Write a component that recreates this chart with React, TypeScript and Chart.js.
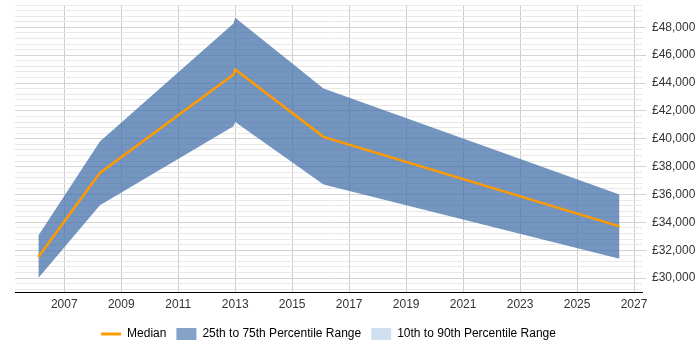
import React, { useEffect, useRef } from 'react';
import { Chart, registerables } from 'chart.js';

Chart.register(...registerables);

// Decimal years of each sample
const years = [2006.09, 2008.25, 2012.94, 2013.0, 2016.1, 2026.49];
// Salary percentiles (GBP)
const p25 = [30000, 35220, 40900, 41200, 36710, 31390];
const median = [31520, 37550, 44610, 44970, 40135, 33710];
const p75 = [33050, 39800, 48270, 48680, 43600, 35990];

const xTickYears = [2007, 2009, 2011, 2013, 2015, 2017, 2019, 2021, 2023, 2025, 2027];
const legendNames = ['Median', '25th to 75th Percentile Range', '10th to 90th Percentile Range'];

const ORANGE = '#ff9a00';
const BAND = 'rgba(68,114,170,0.75)';
const BAND_KEY = 'rgba(68,114,170,0.65)';
const OUTER_KEY = '#cfdfef';

const toPoints = (vals: number[]) => vals.map((v, i) => ({ x: years[i], y: v }));

// Keep the legend centred under the plot area rather than the whole canvas
const legendToPlot = {
  id: 'legendToPlot',
  afterLayout(chart: any) {
    const lg = chart.legend;
    if (!lg) return;
    lg.left = chart.chartArea.left;
    lg.right = chart.chartArea.right;
    lg.width = lg.right - lg.left;
  },
};

export default function App() {
  const ref = useRef<HTMLCanvasElement | null>(null);

  useEffect(() => {
    if (!ref.current) return;
    Chart.defaults.font.family = '"Liberation Sans", Arial, sans-serif';
    Chart.defaults.font.size = 12;
    Chart.defaults.color = '#333';

    const chart = new Chart(ref.current, {
      type: 'line',
      data: {
        datasets: [
          {
            label: legendNames[0],
            data: toPoints(median),
            borderColor: ORANGE,
            borderWidth: 2.5,
            pointRadius: 0,
            fill: false,
            tension: 0,
          },
          {
            label: legendNames[1],
            data: toPoints(p75),
            borderWidth: 0,
            borderColor: 'transparent',
            backgroundColor: BAND,
            pointRadius: 0,
            fill: '+1',
            tension: 0,
          },
          {
            label: 'p25',
            data: toPoints(p25),
            borderWidth: 0,
            borderColor: 'transparent',
            pointRadius: 0,
            fill: false,
            tension: 0,
          },
        ],
      },
      options: {
        animation: false,
        responsive: false,
        layout: { padding: { left: 15, top: 5, right: 0, bottom: 0 } },
        plugins: {
          tooltip: { enabled: false },
          legend: {
            position: 'bottom',
            onClick: () => {},
            labels: {
              usePointStyle: true,
              pointStyleWidth: 20,
              boxHeight: 12,
              padding: 10,
              color: '#333',
              font: { size: 12 },
              generateLabels: () => [
                {
                  text: legendNames[0],
                  pointStyle: 'line',
                  strokeStyle: ORANGE,
                  fillStyle: ORANGE,
                  lineWidth: 3,
                  hidden: false,
                  datasetIndex: 0,
                },
                {
                  text: legendNames[1],
                  pointStyle: 'rect',
                  fillStyle: BAND_KEY,
                  strokeStyle: BAND_KEY,
                  lineWidth: 0,
                  hidden: false,
                  datasetIndex: 1,
                },
                {
                  text: legendNames[2],
                  pointStyle: 'rect',
                  fillStyle: OUTER_KEY,
                  strokeStyle: OUTER_KEY,
                  lineWidth: 0,
                  hidden: false,
                  datasetIndex: 2,
                },
              ] as any,
            },
          },
        },
        scales: {
          x: {
            type: 'linear',
            min: 2005.27,
            max: 2027.28,
            afterBuildTicks: (scale: any) => {
              scale.ticks = xTickYears.map((v) => ({ value: v }));
            },
            afterFit: (scale: any) => {
              scale.height = 26;
              scale.paddingLeft = 0;
              scale.paddingRight = 0;
            },
            ticks: {
              autoSkip: false,
              maxRotation: 0,
              padding: 5,
              color: '#333',
              callback: (v: any) => String(v),
            },
            grid: { color: '#cccccc', drawTicks: false },
            border: { display: true, color: '#000', width: 1 },
          },
          y: {
            type: 'linear',
            position: 'right',
            min: 29000,
            max: 49600,
            afterBuildTicks: (scale: any) => {
              const t = [];
              for (let v = 29200; v <= 49600; v += 400) t.push({ value: v });
              scale.ticks = t;
            },
            afterFit: (scale: any) => {
              scale.width = 58;
              scale.paddingTop = 0;
              scale.paddingBottom = 0;
            },
            ticks: {
              autoSkip: false,
              padding: 6,
              color: '#333',
              callback: (v: any) =>
                Number(v) % 2000 === 0 ? '£' + Number(v).toLocaleString('en-GB') : '',
            },
            grid: {
              color: (ctx: any) => (ctx.tick && ctx.tick.value % 2000 === 0 ? '#d3d3d3' : '#e8e8e8'),
              tickColor: (ctx: any) => (ctx.tick && ctx.tick.value % 2000 === 0 ? '#d3d3d3' : 'rgba(0,0,0,0)'),
              tickLength: 4,
            },
            border: { display: false },
          },
        },
      },
      plugins: [legendToPlot],
    });

    return () => chart.destroy();
  }, []);

  return (
    <div style={{ position: 'fixed', left: 0, top: 0, width: 700, height: 350, background: '#fff' }}>
      <canvas ref={ref} width={700} height={350} />
    </div>
  );
}
